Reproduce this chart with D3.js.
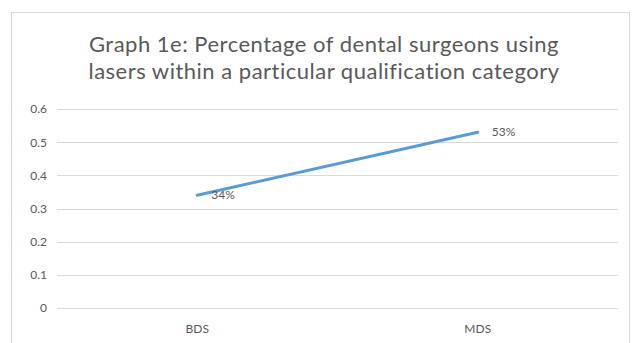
<!DOCTYPE html>
<html>
<head>
<meta charset="utf-8">
<script src="https://cdn.jsdelivr.net/npm/d3@7"></script>
<style>
  html, body { margin: 0; padding: 0; background: #fff; }
  svg { display: block; }
  text { font-family: Lato, "Open Sans", sans-serif; fill: #595959; }
</style>
</head>
<body>
<svg id="chart" width="634" height="343"></svg>
<script>
// Qualification categories and share of surgeons using lasers
const categories = ["BDS", "MDS"];
const values = [0.34, 0.53];
const valueLabels = ["34%", "53%"];
const yTicks = [0, 0.1, 0.2, 0.3, 0.4, 0.5, 0.6];
const titleLines = [
  "Graph 1e: Percentage of dental surgeons using",
  "lasers within a particular qualification category"
];

const svg = d3.select("#chart");
const plot = { left: 57, right: 618, top: 109, bottom: 308 };
const font = "Lato, \"Open Sans\", sans-serif";

// chart area frame
svg.append("rect")
  .attr("x", 11.5).attr("y", 12.5)
  .attr("width", 618).attr("height", 340)
  .attr("fill", "#fff").attr("stroke", "#d9d9d9").attr("stroke-width", 1);

// title
svg.append("g").selectAll("text")
  .data(titleLines).join("text")
  .attr("x", 324)
  .attr("y", (d, i) => 52 + i * 27)
  .attr("text-anchor", "middle")
  .attr("font-size", 22)
  .attr("letter-spacing", 0.5)
  .text(d => d);

const x = d3.scaleBand().domain(categories).range([plot.left, plot.right]);
const y = d3.scaleLinear().domain([0, 0.6]).range([plot.bottom, plot.top]);

// gridlines
svg.append("g").selectAll("line")
  .data(yTicks).join("line")
  .attr("x1", plot.left).attr("x2", plot.right)
  .attr("y1", d => Math.round(y(d)) + 0.5).attr("y2", d => Math.round(y(d)) + 0.5)
  .attr("stroke", "#d9d9d9").attr("stroke-width", 1);

// y axis labels
const yAxis = d3.axisLeft(y).tickValues(yTicks).tickSize(0).tickPadding(10)
  .tickFormat(d => d === 0 ? "0" : d3.format(".1f")(d));
const yg = svg.append("g").attr("transform", `translate(${plot.left},0)`).call(yAxis);
yg.select(".domain").remove();
yg.selectAll("text").attr("font-size", 12).attr("fill", "#595959")
  .style("font-family", font);

// x axis labels
const xAxis = d3.axisBottom(x).tickSize(0).tickPadding(16);
const xg = svg.append("g").attr("transform", `translate(0,${plot.bottom})`).call(xAxis);
xg.select(".domain").remove();
xg.selectAll("text").attr("font-size", 12).attr("fill", "#595959")
  .style("font-family", font);

// line
const pts = categories.map((c, i) => ({ c, v: values[i], label: valueLabels[i] }));
const line = d3.line().x(d => x(d.c) + x.bandwidth() / 2).y(d => y(d.v));
svg.append("path")
  .datum(pts)
  .attr("d", line)
  .attr("fill", "none")
  .attr("stroke", "#5b9bd5")
  .attr("stroke-width", 3)
  .attr("stroke-linecap", "round");

// data labels
svg.append("g").selectAll("text")
  .data(pts).join("text")
  .attr("x", d => x(d.c) + x.bandwidth() / 2 + 14)
  .attr("y", d => y(d.v) + 4)
  .attr("font-size", 12)
  .attr("fill", "#404040")
  .text(d => d.label);
</script>
</body>
</html>
